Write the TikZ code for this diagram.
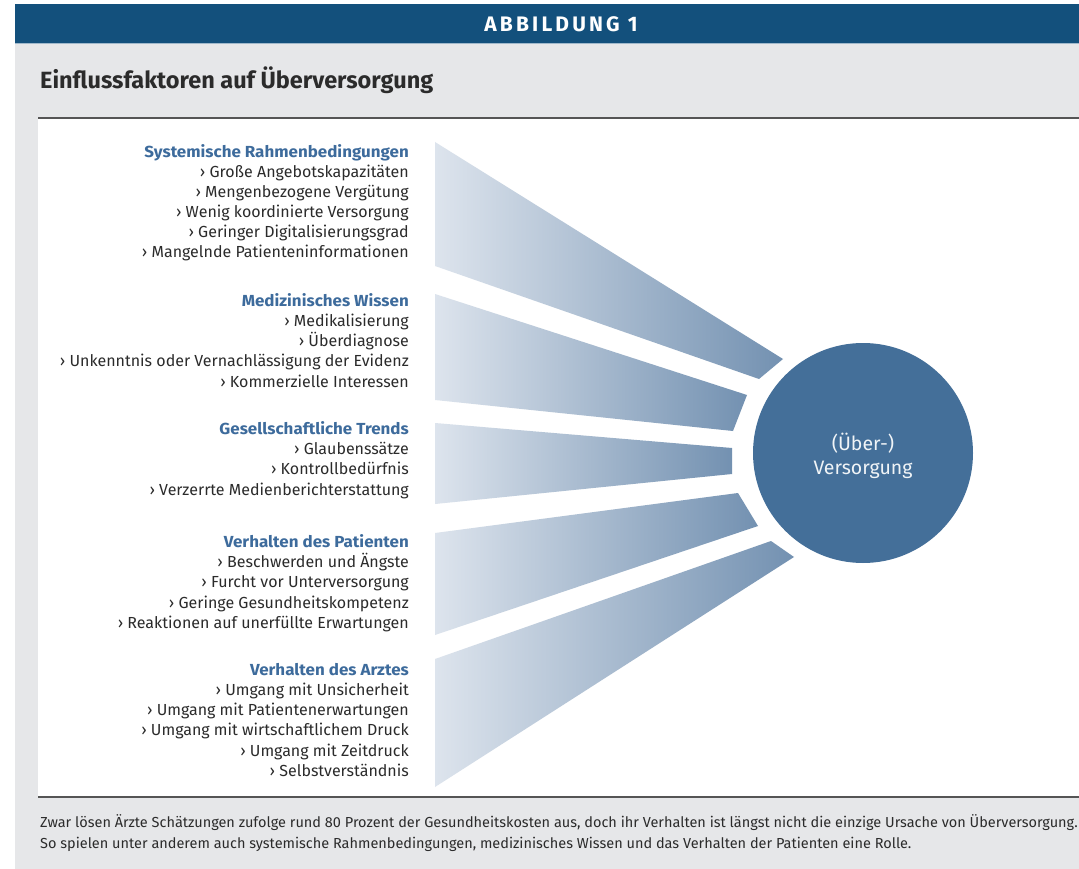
\documentclass[tikz,border=0pt]{standalone}
\usepackage{fontspec}
\setmainfont{Fira Sans}
\newfontfamily\hdrfont[LetterSpace=15]{Fira Sans}
\newfontfamily\headfont[FakeStretch=1.06]{Fira Sans}
\definecolor{hdrblue}{HTML}{13507C}
\definecolor{bggray}{HTML}{E6E7E9}
\definecolor{headblue}{HTML}{3D6B9C}
\definecolor{textgray}{HTML}{2B2B2B}
\definecolor{beamlight}{HTML}{DDE4ED}
\definecolor{beamdark}{HTML}{7391B1}
\definecolor{circ}{HTML}{446F99}
\definecolor{rulegray}{HTML}{555555}
\begin{document}
\begin{tikzpicture}[x=1pt,y=-1pt,
  grouphead/.style={anchor=base east, font=\headfont\bfseries\fontsize{16}{19}\selectfont, text=headblue, inner sep=0pt},
  item/.style={anchor=base east, font=\fontsize{16}{19}\selectfont, text=textgray, inner sep=0pt},
  beam/.style={left color=beamlight, right color=beamdark},
  captxt/.style={anchor=base west, font=\fontsize{14.5}{17}\selectfont, text=textgray, inner sep=0pt}]
\useasboundingbox (0,0) rectangle (1079,869);
\fill[white] (0,0) rectangle (1079,869);
\fill[bggray] (15,4) rectangle (1079,869);
\fill[hdrblue] (15,4) rectangle (1079,43);
\draw[color=hdrblue!40, line width=0.8pt] (15,43.5) -- (1079,43.5);
\fill[white] (38,118) rectangle (1079,797);
\draw[rulegray, line width=2pt] (38,118) -- (1079,118);
\draw[rulegray, line width=2pt] (38,797) -- (1079,797);
\node[anchor=center, text=white, font=\hdrfont\bfseries\fontsize{21}{24}\selectfont, inner sep=0pt] (hdr) at (561,24) {ABBILDUNG 1};
\node[anchor=base west, text=textgray, font=\bfseries\fontsize{23.5}{27}\selectfont, inner sep=0pt] (title) at (40,89) {Einflussfaktoren auf Überversorgung};
% beams
\shade[beam] (435,142) -- (783,359) -- (759,379) -- (435,266) -- cycle;
\shade[beam] (435,294) -- (747,395) -- (733,431) -- (435,400) -- cycle;
\shade[beam] (435,423) -- (732,448) -- (732,474) -- (435,504) -- cycle;
\shade[beam] (435,533) -- (738,493) -- (758,526) -- (435,635) -- cycle;
\shade[beam] (435,659) -- (771,541) -- (794,557) -- (435,787) -- cycle;
% circle
\node[circle, fill=circ, minimum size=220pt, inner sep=0pt] (core) at (863,453) {};
\node[align=center, text=white!92!circ, font=\fontsize{19.5}{24}\selectfont, inner sep=0pt] (coretxt) at (863,456) {(Über-)\\Versorgung};
% group 1
\node[grouphead] (h1) at (409,158) {Systemische Rahmenbedingungen};
\node[item] (a1) at (409,178) {› Große Angebotskapazitäten};
\node[item] (a2) at (409,198) {› Mengenbezogene Vergütung};
\node[item] (a3) at (409,218) {› Wenig koordinierte Versorgung};
\node[item] (a4) at (409,238) {› Geringer Digitalisierungsgrad};
\node[item] (a5) at (409,258) {› Mangelnde Patienteninformationen};
% group 2
\node[grouphead] (h2) at (409,306) {Medizinisches Wissen};
\node[item] (b1) at (409,326) {› Medikalisierung};
\node[item] (b2) at (409,346) {› Überdiagnose};
\node[item] (b3) at (409,366) {› Unkenntnis oder Vernachlässigung der Evidenz};
\node[item] (b4) at (409,387) {› Kommerzielle Interessen};
% group 3
\node[grouphead] (h3) at (409,434) {Gesellschaftliche Trends};
\node[item] (c1) at (409,454) {› Glaubenssätze};
\node[item] (c2) at (409,474) {› Kontrollbedürfnis};
\node[item] (c3) at (409,495) {› Verzerrte Medienberichterstattung};
% group 4
\node[grouphead] (h4) at (409,547) {Verhalten des Patienten};
\node[item] (d1) at (409,567) {› Beschwerden und Ängste};
\node[item] (d2) at (409,587) {› Furcht vor Unterversorgung};
\node[item] (d3) at (409,608) {› Geringe Gesundheitskompetenz};
\node[item] (d4) at (409,628) {› Reaktionen auf unerfüllte Erwartungen};
% group 5
\node[grouphead] (h5) at (409,675) {Verhalten des Arztes};
\node[item] (e1) at (409,695) {› Umgang mit Unsicherheit};
\node[item] (e2) at (409,715) {› Umgang mit Patientenerwartungen};
\node[item] (e3) at (409,735) {› Umgang mit wirtschaftlichem Druck};
\node[item] (e4) at (409,756) {› Umgang mit Zeitdruck};
\node[item] (e5) at (409,776) {› Selbstverständnis};
% caption
\node[captxt] (cap1) at (40,827) {Zwar lösen Ärzte Schätzungen zufolge rund 80 Prozent der Gesundheitskosten aus, doch ihr Verhalten ist längst nicht die einzige Ursache von Überversorgung.};
\node[captxt] (cap2) at (40,848) {So spielen unter anderem auch systemische Rahmenbedingungen, medizinisches Wissen und das Verhalten der Patienten eine Rolle.};
\end{tikzpicture}
\end{document}
